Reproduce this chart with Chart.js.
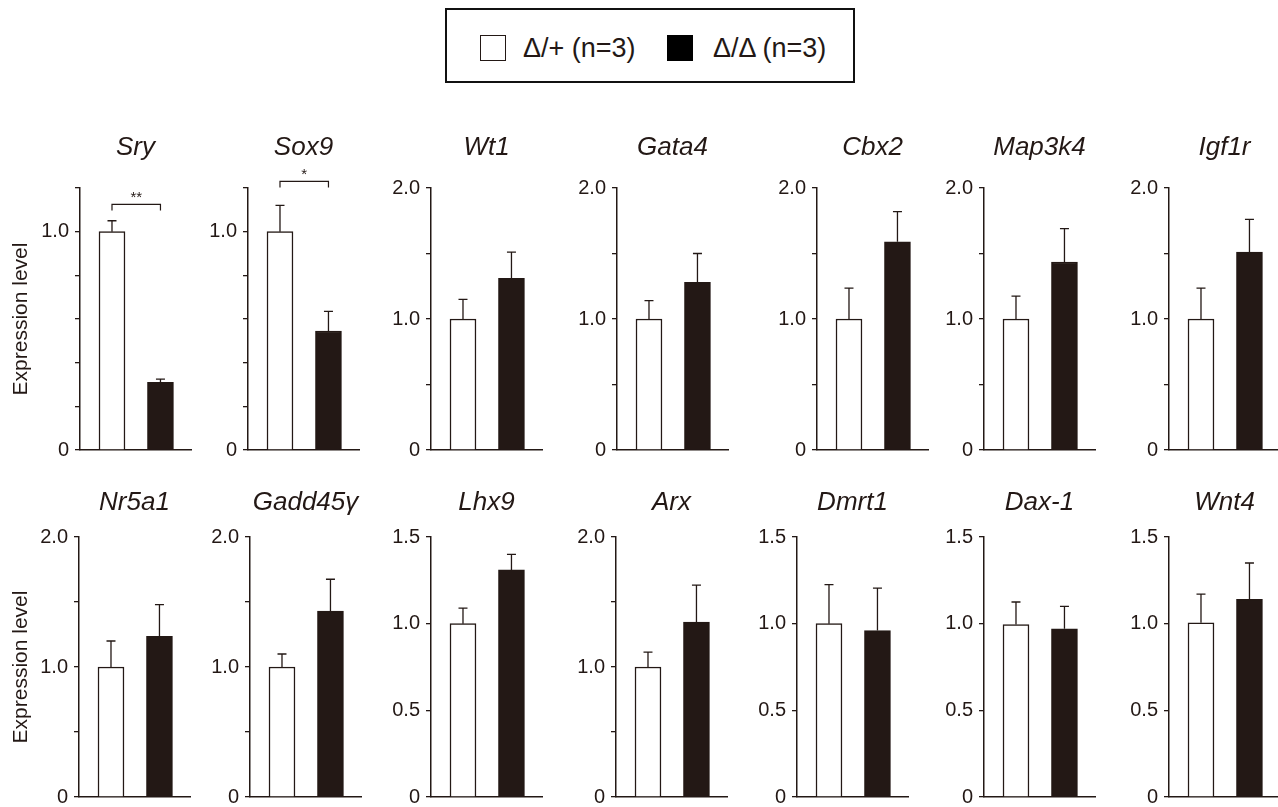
<!DOCTYPE html>
<html>
<head>
<meta charset="utf-8">
<script src="https://cdn.jsdelivr.net/npm/chart.js@4.4.1/dist/chart.umd.min.js"></script>
<style>
  html, body { margin:0; padding:0; background:#fff; width:1278px; height:807px; overflow:hidden;
    font-family:"Liberation Sans", Arial, Helvetica, sans-serif; color:#231815; }
  body { position:relative; }
  .abs { position:absolute; }
  #legendBox { left:445px; top:8px; width:410px; height:75px; box-sizing:border-box; border:2.5px solid #111; }
  .sq { width:26px; height:26px; box-sizing:border-box; }
  .lt { font-size:27px; line-height:27px; white-space:nowrap; }
  canvas { position:absolute; }
</style>
</head>
<body>
<div id="legendBox" class="abs"></div>
<div id="sqA" class="abs sq" style="left:480px;top:35px;border:1.5px solid #231815;background:#fff"></div>
<div id="txA" class="abs lt" style="left:523px;top:35px"></div>
<div id="sqB" class="abs sq" style="left:667px;top:35px;background:#000"></div>
<div id="txB" class="abs lt" style="left:713px;top:35px"></div>
<script>
// ---------------- data ----------------
const genes     = ['Sry','Sox9','Wt1','Gata4','Cbx2','Map3k4','Igf1r','Nr5a1','Gadd45γ','Lhx9','Arx','Dmrt1','Dax-1','Wnt4'];
const hetMean   = [1.00, 1.00, 1.00, 1.00, 1.00, 1.00, 1.00, 1.00, 1.00, 1.00, 1.00, 1.00, 0.995, 1.005];
const hetErr    = [0.05, 0.12, 0.15, 0.14, 0.235, 0.175, 0.235, 0.20, 0.10, 0.09, 0.115, 0.225, 0.13, 0.165];
const homMean   = [0.31, 0.545, 1.31, 1.28, 1.59, 1.435, 1.51, 1.235, 1.43, 1.31, 1.345, 0.96, 0.97, 1.14];
const homErr    = [0.015, 0.09, 0.20, 0.22, 0.23, 0.255, 0.25, 0.245, 0.245, 0.09, 0.285, 0.245, 0.13, 0.21];
const axisMax   = [1.2, 1.2, 2, 2, 2, 2, 2, 2, 2, 1.5, 2, 1.5, 1.5, 1.5];
const tickStep  = [0.2, 0.2, 0.5, 0.5, 0.5, 0.5, 0.5, 0.5, 0.5, 0.5, 0.5, 0.5, 0.5, 0.5];
const labelStep = [1, 1, 1, 1, 1, 1, 1, 1, 1, 0.5, 1, 0.5, 0.5, 0.5];
const sigGenes  = ['Sry', 'Sox9'];
const sigLevel  = [1.125, 1.23];
const sigMark   = ['**', '*'];
const groupLabels = ['Δ/+ (n=3)', 'Δ/Δ (n=3)'];
const yTitle    = 'Expression level';

// ---------------- layout / style ----------------
const DARK = '#231815';
const FONT = '"Liberation Sans", Arial, Helvetica, sans-serif';
const axisXRow = [[80, 248, 431, 617, 817, 984, 1169], [79, 250, 431, 616, 797, 984, 1169]];
const rowTop = [132, 487];
const rowTitlePadBottom = [24.8, 18.8];
const rowHeight = [336, 328];
const plotW = 111;

document.getElementById('txA').textContent = groupLabels[0];
document.getElementById('txB').textContent = groupLabels[1];

Chart.defaults.font.family = FONT;

const errPlugin = {
  id: 'errBars',
  afterDatasetsDraw(chart, args, opts) {
    const i = opts.panel;
    const meta = chart.getDatasetMeta(0);
    const ys = chart.scales.y;
    const ctx = chart.ctx;
    const means = [hetMean[i], homMean[i]];
    const errs = [hetErr[i], homErr[i]];
    ctx.save();
    ctx.strokeStyle = DARK;
    ctx.lineWidth = 1.3;
    meta.data.forEach((bar, k) => {
      const top = ys.getPixelForValue(means[k] + errs[k]);
      ctx.beginPath();
      ctx.moveTo(bar.x, bar.y);
      ctx.lineTo(bar.x, top);
      ctx.moveTo(bar.x - 4.5, top);
      ctx.lineTo(bar.x + 4.5, top);
      ctx.stroke();
    });
    ctx.restore();
  }
};

const sigPlugin = {
  id: 'sigBracket',
  afterDatasetsDraw(chart, args, opts) {
    const s = sigGenes.indexOf(genes[opts.panel]);
    if (s < 0) return;
    const meta = chart.getDatasetMeta(0);
    const ys = chart.scales.y;
    const ctx = chart.ctx;
    const x0 = meta.data[0].x, x1 = meta.data[1].x;
    const y = ys.getPixelForValue(sigLevel[s]);
    ctx.save();
    ctx.strokeStyle = DARK;
    ctx.lineWidth = 1.2;
    ctx.beginPath();
    ctx.moveTo(x0, y + 6);
    ctx.lineTo(x0, y);
    ctx.lineTo(x1, y);
    ctx.lineTo(x1, y + 6);
    ctx.stroke();
    ctx.fillStyle = DARK;
    ctx.font = '15px ' + FONT;
    ctx.textAlign = 'center';
    ctx.textBaseline = 'alphabetic';
    ctx.fillText(sigMark[s], (x0 + x1) / 2, y - 2);
    ctx.restore();
  }
};

genes.forEach((g, i) => {
  const row = i < 7 ? 0 : 1;
  const col = i % 7;
  const axisX = axisXRow[row][col];
  const left = col === 0 ? 0 : axisX - 70;
  const yW = axisX - left;
  const padR = 6;
  const w = yW + plotW + padR;
  const h = rowHeight[row];
  const cv = document.createElement('canvas');
  cv.width = w; cv.height = h;
  cv.style.left = left + 'px';
  cv.style.top = rowTop[row] + 'px';
  cv.style.width = w + 'px';
  cv.style.height = h + 'px';
  document.body.appendChild(cv);

  new Chart(cv, {
    type: 'bar',
    data: {
      datasets: [{
        data: [{x: 0, y: hetMean[i]}, {x: 1, y: homMean[i]}],
        backgroundColor: ['#ffffff', DARK],
        borderColor: DARK,
        borderWidth: 1.5,
        barThickness: 26
      }]
    },
    options: {
      responsive: false,
      animation: false,
      events: [],
      layout: { padding: { left: 0, right: padR, top: 0, bottom: 16 } },
      plugins: {
        legend: { display: false },
        tooltip: { enabled: false },
        title: {
          display: true, text: g, fullSize: false, color: DARK,
          font: { family: FONT, size: 26, style: 'italic', weight: 'normal', lineHeight: 1.2 },
          padding: { top: 0, bottom: rowTitlePadBottom[row] }
        },
        errBars: { panel: i },
        sigBracket: { panel: i }
      },
      scales: {
        x: {
          type: 'linear', min: -0.66, max: 1.63, offset: false,
          ticks: { display: false },
          grid: { display: false, drawTicks: false },
          border: { display: true, color: DARK, width: 1.5 }
        },
        y: {
          min: 0, max: axisMax[i],
          afterFit(s) { s.width = yW; },
          ticks: {
            stepSize: tickStep[i], autoSkip: false, color: DARK, padding: 6,
            font: { family: FONT, size: 20 },
            callback: (v) => {
              const r = v / labelStep[i];
              if (Math.abs(r - Math.round(r)) > 1e-6) return '';
              return Math.abs(v) < 1e-9 ? '0' : Number(v).toFixed(1);
            }
          },
          grid: { display: true, drawOnChartArea: false, drawTicks: true, tickLength: 5, color: DARK, lineWidth: 1.3 },
          border: { display: true, color: DARK, width: 1.5 },
          title: {
            display: col === 0, text: yTitle, color: DARK,
            font: { family: FONT, size: 21, lineHeight: 1.2 },
            padding: { top: 9, bottom: 0 }
          }
        }
      }
    },
    plugins: [errPlugin, sigPlugin]
  });
});
</script>
</body>
</html>
